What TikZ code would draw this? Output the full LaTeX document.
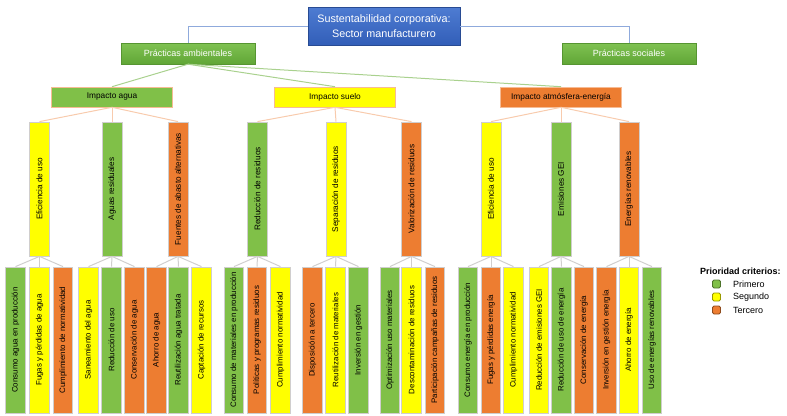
\documentclass[tikz,border=0pt]{standalone}
\usepackage{fontspec}
\setmainfont{Liberation Sans}
\usepackage{graphicx}

\definecolor{cG}{RGB}{128,192,72}
\definecolor{cY}{RGB}{255,255,0}
\definecolor{cO}{RGB}{237,125,49}
\definecolor{cRootTop}{RGB}{78,124,210}
\definecolor{cRootBot}{RGB}{50,94,184}
\definecolor{cPracTop}{RGB}{128,194,82}
\definecolor{cPracBot}{RGB}{96,166,54}
\definecolor{cLineBlue}{RGB}{143,170,220}
\definecolor{cLineGreen}{RGB}{169,209,142}
\definecolor{cLineSalmon}{RGB}{248,203,173}
\definecolor{cGrey}{RGB}{208,206,206}

\tikzset{
    rootbox/.style={draw=cRootBot!80!black, top color=cRootTop, bottom color=cRootBot,
        text=white, minimum width=152pt, minimum height=38pt, inner sep=0pt,
        align=center, font=\fontsize{10.8}{15}\selectfont},
    pracbox/.style={draw=cPracBot!90!black, top color=cPracTop, bottom color=cPracBot,
        text=white, minimum width=134pt, minimum height=21pt, inner sep=0pt,
        font=\fontsize{9}{11}\selectfont},
    impbox/.style={draw=cLineSalmon!80!cO, line width=0.6pt, minimum width=121pt,
        minimum height=20pt, inner sep=0pt, font=\fontsize{8.3}{10}\selectfont},
    critbox/.style={draw=cGrey, line width=0.8pt, minimum width=20pt, minimum height=134pt,
        inner sep=0pt, font=\fontsize{8.2}{10}\selectfont},
    leafbox/.style={draw=cGrey, line width=0.8pt, minimum width=19.5pt, minimum height=146pt,
        inner sep=0pt, font=\fontsize{7.9}{10}\selectfont},
    rootline/.style={draw=cLineBlue, line width=1pt},
    pracline/.style={draw=cLineGreen, line width=1pt},
    impline/.style={draw=cLineSalmon, line width=1pt},
    leafline/.style={draw=cGrey, line width=1pt},
    legsq/.style={draw=#1!60!black, fill=#1, rounded corners=1.5pt, minimum size=8pt,
        inner sep=0pt, line width=0.8pt},
    legtext/.style={anchor=west, inner sep=0pt, font=\fontsize{9}{11}\selectfont}
}

\begin{document}
\begin{tikzpicture}[x=1pt, y=-1pt]
    \useasboundingbox (0,0) rectangle (787,415);

    % top levels
    \node[rootbox] (root) at (384,26) {Sustentabilidad corporativa:\\Sector manufacturero};
    \node[pracbox] (amb) at (188,53.5) {Prácticas ambientales};
    \node[pracbox] (soc) at (629,53.5) {Prácticas sociales};
    \draw[rootline] (root.west) -| (amb.north);
    \draw[rootline] (root.east) -| (soc.north);

    \foreach[count=\i] \x/\c/\t in {112/cG/Impacto agua, 335/cY/Impacto suelo,
            561/cO/Impacto atmósfera-energía}
        \node[impbox, fill=\c] (imp\i) at (\x,97) {\t};
    \foreach \i in {1,...,3}
        \draw[pracline] (amb.south) -- (imp\i.north);

    % criteria
    \foreach[count=\i] \x/\c/\t in {39.5/cY/Eficiencia de uso, 112/cG/Aguas residuales,
            178/cO/Fuentes de abasto alternativas, 257.5/cG/Reducción de residuos,
            336/cY/Separación de residuos, 411.5/cO/Valorización de residuos,
            491/cY/Eficiencia de uso, 561/cG/Emisiones GEI, 629/cO/Energías renovables}
        \node[critbox, fill=\c] (crit\i) at (\x,189) {\rotatebox{90}{\t}};
    \foreach[evaluate=\i as \p using {int((\i+2)/3)}] \i in {1,...,9}
        \draw[impline] (imp\p.south) -- (crit\i.north);

    % sub-criteria
    \foreach[count=\i] \x/\c/\t in {
            15.5/cG/Consumo agua en producción, 39.5/cY/Fugas y pérdidas de agua,
            63/cO/Cumplimiento de normatividad, 88.5/cY/Saneamiento del agua,
            111.5/cG/Reducción de uso, 134.5/cO/Conservación de agua,
            156.5/cO/Ahorro de agua, 178.5/cG/Reutilización agua tratada,
            201.5/cY/Captación de recursos,
            234/cG/Consumo de materiales en producción, 257/cO/Políticas y programas residuos,
            280.5/cY/Cumplimiento normatividad, 312.5/cO/Disposición a tercero,
            335.5/cY/Reutilización de materiales, 358.5/cG/Inversión en gestión,
            390/cG/Optimización uso materiales, 411.5/cY/Descontaminación de residuos,
            435/cO/Participación campañas de residuos,
            468/cG/Consumo energía en producción, 491/cO/Fugas y pérdidas energía,
            513.5/cY/Cumplimiento normatividad, 539/cY/Reducción de emisiones GEI,
            561.5/cG/Reducción de uso de energía, 584/cO/Conservación de energía,
            606.5/cO/Inversión en gestión energía, 629/cY/Ahorro de energía,
            652/cG/Uso de energías renovables}
        \node[leafbox, fill=\c] (leaf\i) at (\x,340) {\rotatebox{90}{\t}};
    \foreach[evaluate=\i as \p using {int((\i+2)/3)}] \i in {1,...,27}
        \draw[leafline] (crit\p.south) -- (leaf\i.north);

    % legend
    \node[anchor=west, inner sep=0pt, font=\bfseries\fontsize{9}{11}\selectfont] (legtitle)
        at (700,271) {Prioridad criterios:};
    \foreach[count=\i] \c/\t in {cG/Primero, cY/Segundo, cO/Tercero} {
        \node[legsq=\c] (sq\i) at (716.5,271+13*\i) {};
        \node[legtext] (lt\i) at (733,271+13*\i) {\t};
    }
\end{tikzpicture}
\end{document}
